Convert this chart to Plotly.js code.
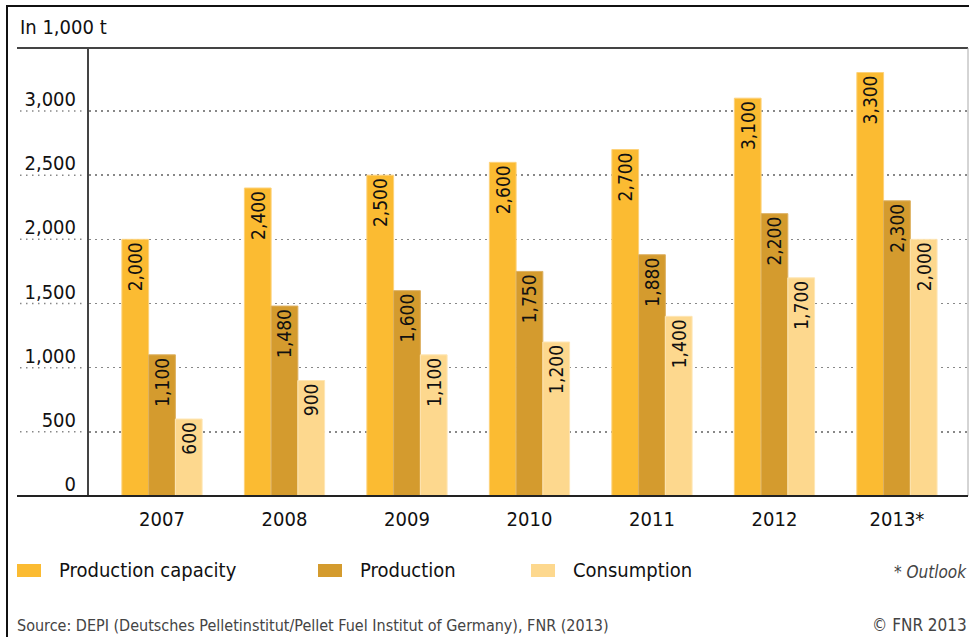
<!DOCTYPE html>
<html>
<head>
<meta charset="utf-8">
<script src="https://cdn.plot.ly/plotly-3.0.1.min.js"></script>
<style>
html,body{margin:0;padding:0;background:#fff;}
#chart{width:969px;height:637px;}
</style>
</head>
<body>
<div id="chart"></div>
<script>
// ---- data ----
const years = ["2007", "2008", "2009", "2010", "2011", "2012", "2013*"];
const capacity = [2000, 2400, 2500, 2600, 2700, 3100, 3300];
const production = [1100, 1480, 1600, 1750, 1880, 2200, 2300];
const consumption = [600, 900, 1100, 1200, 1400, 1700, 2000];
const seriesNames = ["Production capacity", "Production", "Consumption"];
const yTicks = [0, 500, 1000, 1500, 2000, 2500, 3000];
const yTickLabels = ["0", "500", "1,000", "1,500", "2,000", "2,500", "3,000"];
const unitLabel = "In 1,000 t";
const outlookNote = "* Outlook";
const sourceText = "Source: DEPI (Deutsches Pelletinstitut/Pellet Fuel Institut of Germany), FNR (2013)";
const copyrightText = "© FNR 2013";

// ---- styling ----
const colors = ["#FBBB32", "#D49B2E", "#FDD88E"];
const edgeColors = ["#FDD27A", "#DDB060", "#FEE6B5"];
const FONT = "'DejaVu Sans Condensed', 'Liberation Sans Narrow', 'DejaVu Sans', sans-serif";
const DOTS = "1.5px,4.5px";

// plot area in pixels
const L = 89, R = 968, T = 48, B = 496, W = 969, H = 637;
const px = x => (x - L) / (R - L);
const py = y => (B - y) / (B - T);

const fmt = v => v.toLocaleString('en-US');
const allSeries = [capacity, production, consumption];

const traces = allSeries.map((vals, i) => ({
  type: 'bar',
  name: seriesNames[i],
  x: years,
  y: vals,
  text: vals.map(fmt),
  textposition: 'inside',
  insidetextanchor: 'end',
  textangle: -90,
  constraintext: 'none',
  textfont: {family: FONT, size: 19, color: '#111'},
  marker: {color: colors[i], line: {color: edgeColors[i], width: 1}},
  hoverinfo: 'skip',
  showlegend: false
}));

const shapes = [];
const annotations = [];

// outer border (top and left)
shapes.push({type:'line', xref:'paper', yref:'paper', x0:px(7), x1:px(W), y0:py(6), y1:py(6), line:{color:'#111', width:2}});
shapes.push({type:'line', xref:'paper', yref:'paper', x0:px(7), x1:px(7), y0:py(5), y1:py(H), line:{color:'#111', width:2}});
// line under unit label
shapes.push({type:'line', xref:'paper', yref:'paper', x0:px(17), x1:px(R), y0:py(48), y1:py(48), line:{color:'#444', width:2}});
// right edge of plot box
shapes.push({type:'line', xref:'paper', yref:'paper', x0:px(R), x1:px(R), y0:py(48), y1:py(B), line:{color:'#aaa', width:1}});
// dotted grid extension left of the axis
yTicks.slice(1).forEach(v => {
  shapes.push({type:'line', xref:'paper', yref:'y', x0:px(20), x1:px(86), y0:v, y1:v, line:{color:'#888', width:1.5, dash:DOTS}});
});
// baseline
shapes.push({type:'line', xref:'paper', yref:'paper', x0:px(17), x1:px(R), y0:py(B), y1:py(B), line:{color:'#222', width:2}});

// unit label
annotations.push({xref:'paper', yref:'paper', x:px(18), y:py(27), xanchor:'left', yanchor:'middle', showarrow:false,
  text: unitLabel, font:{family:FONT, size:20, color:'#111'}});

// legend (built from series)
const legX = [17, 318, 531];
seriesNames.forEach((n, i) => {
  shapes.push({type:'rect', xref:'paper', yref:'paper', x0:px(legX[i]), x1:px(legX[i]+24), y0:py(564), y1:py(577),
    fillcolor: colors[i], line:{width:0}});
  annotations.push({xref:'paper', yref:'paper', x:px(legX[i]+40), y:py(570), xanchor:'left', yanchor:'middle', showarrow:false,
    text: n, font:{family:FONT, size:20, color:'#111'}});
});
annotations.push({xref:'paper', yref:'paper', x:px(969), y:py(572), xanchor:'right', yanchor:'middle', showarrow:false,
  text: '<i>' + outlookNote + '</i>', font:{family:FONT, size:17, color:'#444'}});
annotations.push({xref:'paper', yref:'paper', x:px(15), y:py(625), xanchor:'left', yanchor:'middle', showarrow:false,
  text: sourceText, font:{family:FONT, size:16, color:'#444'}});
annotations.push({xref:'paper', yref:'paper', x:px(969), y:py(625), xanchor:'right', yanchor:'middle', showarrow:false,
  text: copyrightText, font:{family:FONT, size:17, color:'#444'}});

const layout = {
  width: W, height: H,
  margin: {l: L, r: W - R, t: T, b: H - B, pad: 0},
  paper_bgcolor: '#fff', plot_bgcolor: '#fff',
  barmode: 'group', bargap: 0.345, bargroupgap: 0,
  font: {family: FONT, size: 20, color: '#111'},
  xaxis: {
    type: 'category',
    range: [-0.596, 6.58],
    showgrid: false, zeroline: false, showline: false,
    ticks: '', tickfont: {family: FONT, size: 20, color: '#111'},
    ticklabelstandoff: 9,
    fixedrange: true
  },
  yaxis: {
    range: [0, 3491],
    tickvals: yTicks, ticktext: yTickLabels,
    showgrid: true, gridcolor: '#888', gridwidth: 1.5, griddash: DOTS,
    zeroline: false,
    showline: true, linecolor: '#444', linewidth: 2,
    ticks: '', tickfont: {family: FONT, size: 20, color: '#111'},
    ticklabelstandoff: 7,
    ticklabelshift: -12,
    fixedrange: true
  },
  shapes: shapes,
  annotations: annotations,
  showlegend: false
};

Plotly.newPlot('chart', traces, layout, {displayModeBar: false, staticPlot: true});
</script>
</body>
</html>
